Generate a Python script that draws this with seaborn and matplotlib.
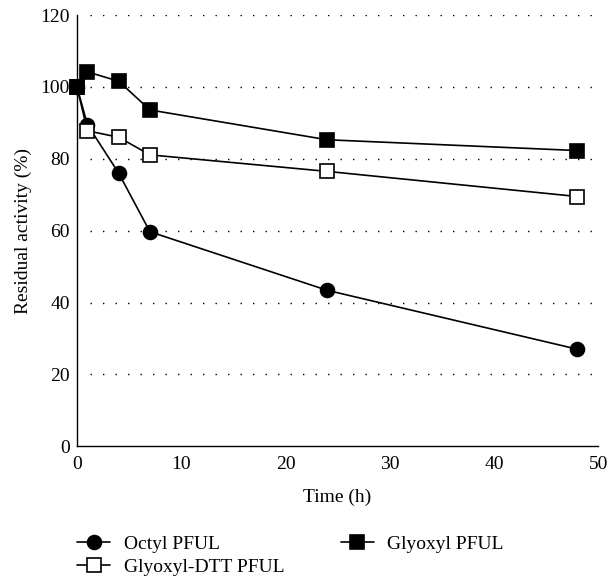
import numpy as np
import pandas as pd
import matplotlib
matplotlib.use("Agg")
import matplotlib.pyplot as plt
import seaborn as sns

time_h = [0, 1, 4, 7, 24, 48]
octyl = [100, 89.5, 76, 59.7, 43.4, 27]
glyoxyl = [100, 104.2, 101.6, 93.6, 85.3, 82.3]
glyoxyl_dtt = [100, 87.8, 86, 81.1, 76.5, 69.5]
series_names = ["Octyl PFUL", "Glyoxyl-DTT PFUL", "Glyoxyl PFUL"]

df = pd.DataFrame({
    "time": time_h * 3,
    "activity": octyl + glyoxyl_dtt + glyoxyl,
    "series": [series_names[0]] * 6 + [series_names[1]] * 6 + [series_names[2]] * 6,
})

sns.set_style("white")
plt.rcParams["font.family"] = ["Liberation Serif", "DejaVu Serif"]
plt.rcParams["text.color"] = "black"
plt.rcParams["axes.labelcolor"] = "black"
plt.rcParams["xtick.color"] = "black"
plt.rcParams["ytick.color"] = "black"

fig = plt.figure(figsize=(6.11, 5.81), dpi=100)
ax = fig.add_axes([0.126, 0.232, 0.853, 0.742])

styles = {
    "Octyl PFUL": dict(marker="o", mfc="black"),
    "Glyoxyl PFUL": dict(marker="s", mfc="black"),
    "Glyoxyl-DTT PFUL": dict(marker="s", mfc="white"),
}
for i, name in enumerate(series_names):
    sub = df[df["series"] == name]
    sns.lineplot(data=sub, x="time", y="activity", ax=ax, color="black",
                 linewidth=1.2, marker=styles[name]["marker"], markersize=10,
                 markerfacecolor=styles[name]["mfc"], markeredgecolor="black",
                 markeredgewidth=1.2, label=name, zorder=3 + i, clip_on=False)

ax.set_xlim(0, 50)
ax.set_ylim(0, 120)
ax.set_xticks(range(0, 51, 10))
ax.set_yticks(range(0, 121, 20))
for y in range(20, 121, 20):
    ax.axhline(y, xmin=0.025, color="black", linestyle=(0, (1, 8)), linewidth=1.0, zorder=1)
ax.tick_params(axis="x", labelsize=14, length=0, pad=7)
ax.tick_params(axis="y", labelsize=14, length=0, pad=5)
ax.set_xlabel("Time (h)", fontsize=14, labelpad=11)
ax.set_ylabel("Residual activity (%)", fontsize=14, labelpad=6)
for s in ["top", "right"]:
    ax.spines[s].set_visible(False)
for s in ["left", "bottom"]:
    ax.spines[s].set_color("black")
    ax.spines[s].set_linewidth(1.0)

h, l = ax.get_legend_handles_labels()
ax.get_legend().remove()
fig.legend(h, l, ncol=2, frameon=False,
           loc="upper left", bbox_to_anchor=(0.126, 0.079), fontsize=14,
           handlelength=1.7, columnspacing=2.9, labelspacing=0.3, handletextpad=0.7,
           borderaxespad=0, borderpad=0)

fig.savefig("out.png", dpi=100)
